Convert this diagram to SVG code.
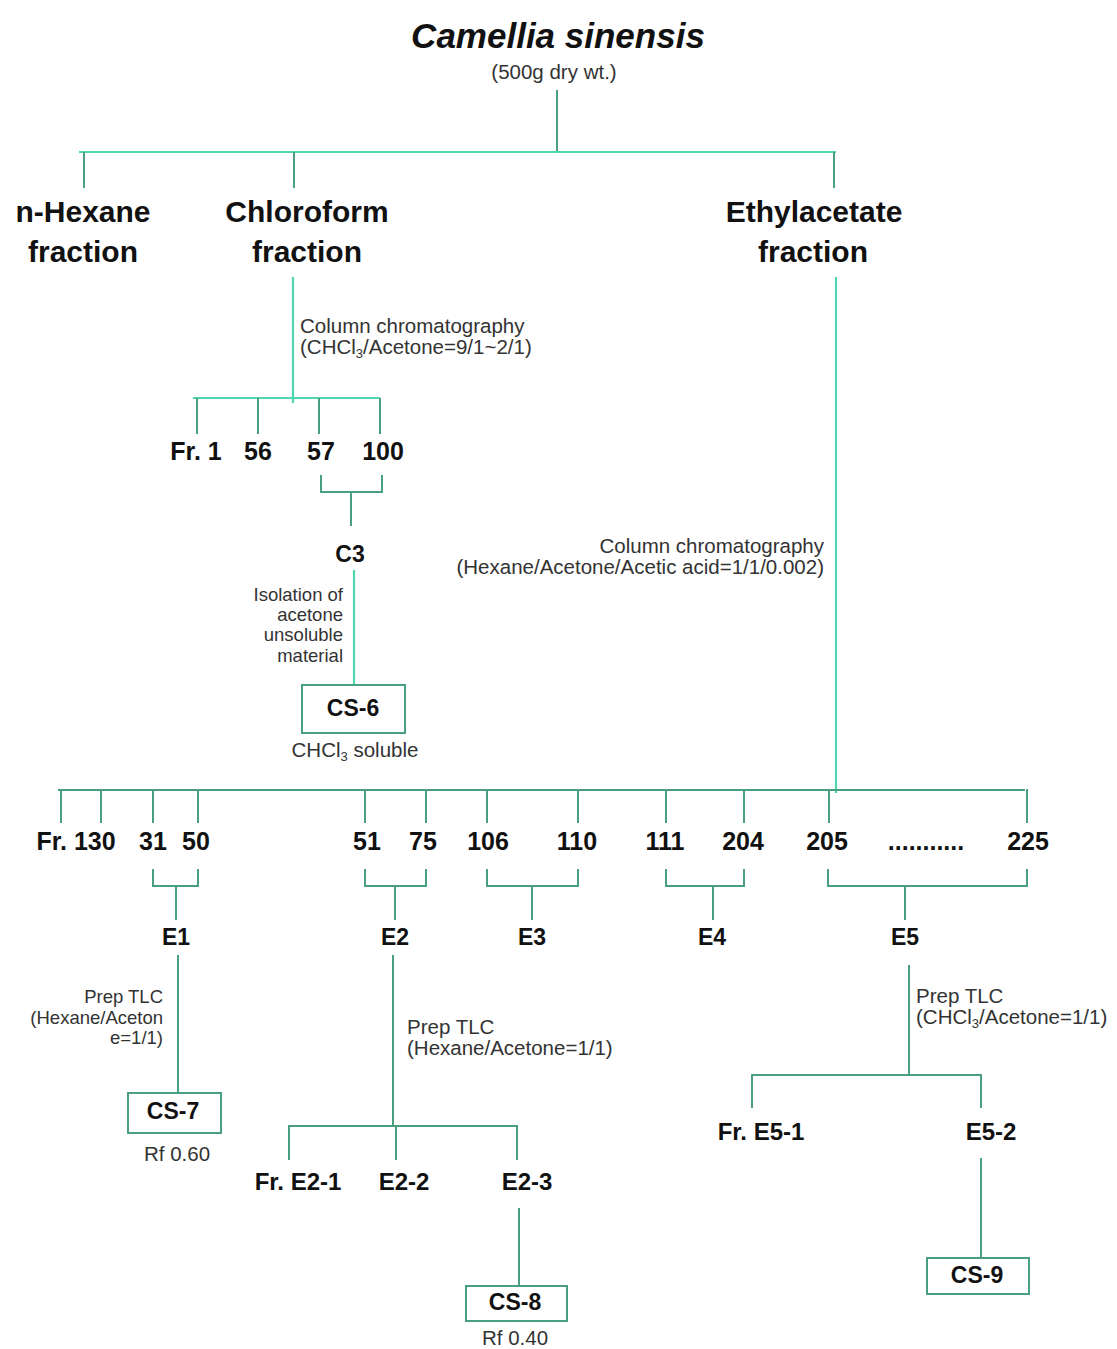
<svg xmlns="http://www.w3.org/2000/svg" width="1117" height="1349" viewBox="0 0 1117 1349">
<style>
.b{font-family:"Liberation Sans",Arial,sans-serif;font-weight:bold;fill:#111;text-anchor:middle}
.r{font-family:"Liberation Sans",Arial,sans-serif;fill:#333;font-size:20.5px}
.s{font-size:18.5px}
.m{text-anchor:middle}
.e{text-anchor:end}
.hl{stroke:#4fd6b0;stroke-width:2.2;fill:none}
.dk{stroke:#4a9f7e;stroke-width:2;fill:none}
.box{stroke:#4a9f7e;stroke-width:2;fill:#fff}
</style>
<rect width="1117" height="1349" fill="#fff"/>
<g id="connectors">
<path class="dk" d="M557 90V152"/>
<path class="hl" d="M79 152H836"/>
<path class="dk" d="M84 152V188M294 152V188M834 152V188"/>
<path class="hl" d="M293 277V403M193 398H380"/>
<path class="dk" d="M197 398V434M258 398V434M319 398V434M380 398V434"/>
<path class="dk" d="M321 475V492H382V475M351 492V526"/>
<path class="hl" d="M354 570V685"/>
<path class="hl" d="M836 277V793"/>
<path class="dk" d="M58 790H1025"/>
<path class="dk" d="M61 790V823M101 790V823M153 790V823M198 790V823M365 790V823M426 790V823M487 790V823M578 790V823M666 790V823M744 790V823M829 790V823M1027 789V823"/>
<path class="dk" d="M153 869V886H198V869M176 886V920"/>
<path class="dk" d="M365 869V886H426V869M395 886V920"/>
<path class="dk" d="M487 869V886H578V869M532 886V920"/>
<path class="dk" d="M666 869V886H744V869M713 886V920"/>
<path class="dk" d="M828 869V886H1027V869M905 886V920"/>
<path class="dk" d="M178 955V1093"/>
<path class="dk" d="M393 955V1126M289 1160V1126H517V1160M396 1126V1160"/>
<path class="dk" d="M519 1208V1286"/>
<path class="dk" d="M909 965V1075M752 1108V1075H981V1108"/>
<path class="dk" d="M981 1158V1258"/>
</g>
<g id="root">
<text class="b" x="558" y="48" font-size="35" font-style="italic">Camellia sinensis</text>
<text class="r m" x="554" y="79" font-size="19">(500g dry wt.)</text>
</g>
<g id="hexane"><text class="b" font-size="30"><tspan x="83" y="222">n-Hexane</tspan><tspan x="83" y="262">fraction</tspan></text></g>
<g id="chloroform"><text class="b" font-size="30"><tspan x="307" y="222">Chloroform</tspan><tspan x="307" y="262">fraction</tspan></text></g>
<g id="ethylacetate"><text class="b" font-size="30"><tspan x="814" y="222">Ethylacetate</tspan><tspan x="813" y="262">fraction</tspan></text></g>
<g id="cc1"><text class="r"><tspan x="300" y="333">Column chromatography</tspan><tspan x="300" y="354">(CHCl<tspan font-size="13" dy="4">3</tspan><tspan dy="-4">/Acetone=9/1~2/1)</tspan></tspan></text></g>
<g id="chl-fr">
<text class="b" font-size="25" x="196" y="460">Fr. 1</text>
<text class="b" font-size="25" x="258" y="460">56</text>
<text class="b" font-size="25" x="321" y="460">57</text>
<text class="b" font-size="25" x="383" y="460">100</text>
</g>
<g id="c3"><text class="b" font-size="23" x="350" y="562">C3</text></g>
<g id="iso"><text class="r s e"><tspan x="343" y="601">Isolation of</tspan><tspan x="343" y="621">acetone</tspan><tspan x="343" y="641">unsoluble</tspan><tspan x="343" y="662">material</tspan></text></g>
<g id="cs6">
<rect class="box" x="302" y="685" width="103" height="48"/>
<text class="b" font-size="23" x="353" y="716">CS-6</text>
<text class="r m" x="355" y="757">CHCl<tspan font-size="13" dy="4">3</tspan><tspan dy="-4"> soluble</tspan></text>
</g>
<g id="cc2"><text class="r e"><tspan x="824" y="553">Column chromatography</tspan><tspan x="824" y="574">(Hexane/Acetone/Acetic acid=1/1/0.002)</tspan></text></g>
<g id="eth-fr">
<text class="b" font-size="25" x="76" y="850">Fr. 130</text>
<text class="b" font-size="25" x="153" y="850">31</text>
<text class="b" font-size="25" x="196" y="850">50</text>
<text class="b" font-size="25" x="367" y="850">51</text>
<text class="b" font-size="25" x="423" y="850">75</text>
<text class="b" font-size="25" x="488" y="850">106</text>
<text class="b" font-size="25" x="577" y="850">110</text>
<text class="b" font-size="25" x="665" y="850">111</text>
<text class="b" font-size="25" x="743" y="850">204</text>
<text class="b" font-size="25" x="827" y="850">205</text>
<text class="b" font-size="25" x="926" y="850">...........</text>
<text class="b" font-size="25" x="1028" y="850">225</text>
</g>
<g id="e1"><text class="b" font-size="23" x="176" y="945">E1</text></g>
<g id="e2"><text class="b" font-size="23" x="395" y="945">E2</text></g>
<g id="e3"><text class="b" font-size="23" x="532" y="945">E3</text></g>
<g id="e4"><text class="b" font-size="23" x="712" y="945">E4</text></g>
<g id="e5"><text class="b" font-size="23" x="905" y="945">E5</text></g>
<g id="tlc1"><text class="r s e"><tspan x="163" y="1003">Prep TLC</tspan><tspan x="163" y="1024">(Hexane/Aceton</tspan><tspan x="163" y="1044">e=1/1)</tspan></text></g>
<g id="cs7">
<rect class="box" x="128" y="1093" width="93" height="40"/>
<text class="b" font-size="23" x="173" y="1119">CS-7</text>
<text class="r m" x="177" y="1161">Rf 0.60</text>
</g>
<g id="tlc2"><text class="r"><tspan x="407" y="1034">Prep TLC</tspan><tspan x="407" y="1055">(Hexane/Acetone=1/1)</tspan></text></g>
<g id="e2-1"><text class="b" font-size="24" x="298" y="1190">Fr. E2-1</text></g>
<g id="e2-2"><text class="b" font-size="24" x="404" y="1190">E2-2</text></g>
<g id="e2-3"><text class="b" font-size="24" x="527" y="1190">E2-3</text></g>
<g id="cs8">
<rect class="box" x="466" y="1286" width="101" height="35"/>
<text class="b" font-size="23" x="515" y="1310">CS-8</text>
<text class="r m" x="515" y="1345">Rf 0.40</text>
</g>
<g id="tlc3"><text class="r"><tspan x="916" y="1003">Prep TLC</tspan><tspan x="916" y="1024">(CHCl<tspan font-size="13" dy="4">3</tspan><tspan dy="-4">/Acetone=1/1)</tspan></tspan></text></g>
<g id="e5-1"><text class="b" font-size="24" x="761" y="1140">Fr. E5-1</text></g>
<g id="e5-2"><text class="b" font-size="24" x="991" y="1140">E5-2</text></g>
<g id="cs9">
<rect class="box" x="927" y="1258" width="102" height="36"/>
<text class="b" font-size="23" x="977" y="1283">CS-9</text>
</g>
</svg>
